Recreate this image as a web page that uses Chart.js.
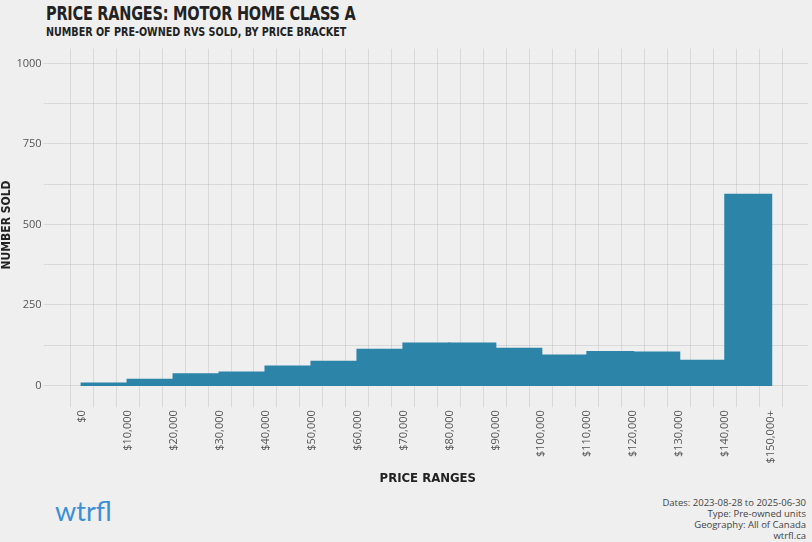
<!DOCTYPE html>
<html>
<head>
<meta charset="utf-8">
<script src="https://cdn.jsdelivr.net/npm/chart.js@4"></script>
<style>
  body { margin: 0; background: #efefef; width: 812px; height: 542px; overflow: hidden; position: relative; font-family: "Open Sans", sans-serif; }
  #wrap { position: absolute; left: 0; top: 40px; width: 812px; height: 450px; }
  .title { position: absolute; left: 46px; top: 2px; font-family: "DejaVu Sans Condensed", sans-serif; font-weight: bold; font-size: 19px; color: #222; transform: scaleX(0.85); transform-origin: left; letter-spacing: -0.3px; }
  .subtitle { position: absolute; left: 46px; top: 24px; font-family: "DejaVu Sans Condensed", sans-serif; font-weight: bold; font-size: 13px; color: #222; transform: scaleX(0.82); transform-origin: left; }
  .logo { position: absolute; left: 55px; top: 494px; font-family: "Lato", sans-serif; font-size: 27px; color: #3a8fd6; }
  .notes { position: absolute; right: 6px; top: 497px; text-align: right; font-size: 9.5px; line-height: 11px; color: #444; }
</style>
</head>
<body>
<div class="title">PRICE RANGES: MOTOR HOME CLASS A</div>
<div class="subtitle">NUMBER OF PRE-OWNED RVS SOLD, BY PRICE BRACKET</div>
<div id="wrap"><canvas id="chart"></canvas></div>
<div class="logo">wtrfl</div>
<div class="notes">Dates: 2023-08-28 to 2025-06-30<br>Type: Pre-owned units<br>Geography: All of Canada<br>wtrfl.ca</div>
<script>
const tickLabels = ["$0", "$10,000", "$20,000", "$30,000", "$40,000", "$50,000", "$60,000", "$70,000",
  "$80,000", "$90,000", "$100,000", "$110,000", "$120,000", "$130,000", "$140,000", "$150,000+"];
const unitsSold = [6, 18, 35, 40, 59, 74, 111, 130, 130, 114, 93, 104, 102, 77, 592];
const yTicks = [0, 250, 500, 750, 1000];

const grid = "rgba(0,0,0,0.09)";
new Chart(document.getElementById("chart"), {
  type: "bar",
  data: {
    datasets: [{
      data: unitsSold.map((v, i) => ({ x: i + 0.5, y: v })),
      backgroundColor: "#2d84a9",
      borderColor: "#2d84a9",
      borderWidth: 0,
      inflateAmount: 1,
      // half-step gridline ticks halve the bar ruler, so double it back
      barPercentage: 2,
      categoryPercentage: 1,
    }],
  },
  options: {
    responsive: true,
    maintainAspectRatio: false,
    animation: false,
    layout: { padding: { right: 4, top: 5 } },
    plugins: { legend: { display: false }, tooltip: { enabled: false } },
    scales: {
      x: {
        type: "linear",
        offset: false,
        min: -0.74,
        max: 15.8,
        border: { display: false },
        grid: { color: grid, tickLength: 6 },
        afterBuildTicks: (axis) => {
          axis.ticks = [];
          for (let i = 0; i <= 31; i++) axis.ticks.push({ value: i / 2 - 0.5 });
        },
        ticks: {
          autoSkip: false,
          minRotation: 90,
          maxRotation: 90,
          color: "#555",
          font: { family: "Open Sans", size: 11 },
          callback: (v) => (Number.isInteger(v) && v >= 0 ? tickLabels[v] : ""),
        },
        title: {
          display: true,
          text: "PRICE RANGES",
          color: "#222",
          font: { family: "DejaVu Sans Condensed", weight: "bold", size: 13 },
          padding: { top: 4 },
        },
      },
      y: {
        min: -49,
        max: 1046,
        border: { display: false },
        grid: { color: grid, tickLength: 4 },
        afterBuildTicks: (axis) => {
          axis.ticks = [];
          for (let v = -125; v <= 1000; v += 125) if (v >= -49) axis.ticks.push({ value: v });
        },
        ticks: {
          padding: 2,
          color: "#555",
          font: { family: "Open Sans", size: 11 },
          callback: (v) => (yTicks.includes(v) ? String(v) : ""),
        },
        title: {
          display: true,
          text: "NUMBER SOLD",
          color: "#222",
          font: { family: "DejaVu Sans Condensed", weight: "bold", size: 12 },
          padding: 0,
        },
      },
    },
  },
});
</script>
</body>
</html>
